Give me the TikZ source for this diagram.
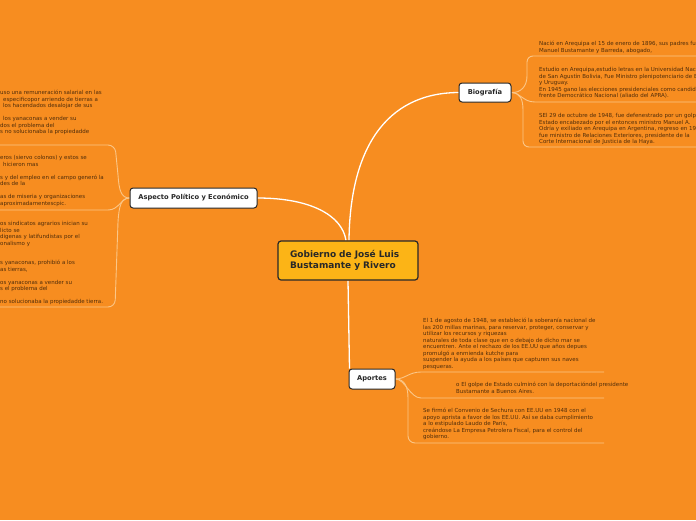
\documentclass[tikz,border=0pt]{standalone}
\usepackage{fontspec}
\setmainfont{DejaVu Sans}
\usetikzlibrary{backgrounds}
\definecolor{bg}{RGB}{247,141,32}
\definecolor{centerfill}{RGB}{252,180,22}
\definecolor{subc}{RGB}{251,198,135}
\definecolor{txt}{RGB}{80,45,10}
\definecolor{dark}{RGB}{40,40,40}
\begin{document}
\begin{tikzpicture}[x=1pt,y=-1pt,
 mainbox/.style={draw=dark, line width=1.2pt, rounded corners=3pt, fill=centerfill,
   font=\bfseries\fontsize{9}{11}\selectfont, text=dark, align=left,
   minimum width=140pt, minimum height=39pt, inner sep=0pt, text width=116pt},
 topicbox/.style={draw=dark, line width=1pt, rounded corners=3pt, fill=white,
   font=\bfseries\fontsize{6.7}{8}\selectfont, text=dark, inner sep=0pt},
 item/.style={anchor=north west, inner sep=0pt, font=\fontsize{5.5}{6.5}\selectfont,
   text=txt, align=left},
 mainlink/.style={draw=white, line width=1.3pt},
 sublink/.style={draw=subc, line width=0.9pt}]
\begin{pgfonlayer}{background}
\fill[bg] (0,0) rectangle (696,520);
\end{pgfonlayer}
\useasboundingbox (0,0) rectangle (696,520);

% nodes
\node[mainbox] (c) at (348,260.5) {Gobierno de José Luis\\Bustamante y Rivero};
\node[topicbox, minimum width=52pt, minimum height=19pt] (bio) at (485,92.5) {Biografía};
\node[topicbox, minimum width=127pt, minimum height=20pt] (asp) at (193.5,198) {Aspecto Político y Económico};
\node[topicbox, minimum width=46pt, minimum height=20pt] (apo) at (372,379) {Aportes};

% free ends of the sub-branches
\coordinate (b1) at (700,56);
\coordinate (b2) at (700,102);
\coordinate (b3) at (700,147);
\coordinate (a1) at (-5,145);
\coordinate (a2) at (-5,210);
\coordinate (a3) at (-5,307);
\coordinate (p1) at (604,372);
\coordinate (p2) at (604,398);
\coordinate (p3) at (604,443);

\begin{pgfonlayer}{background}
\draw[mainlink] ([xshift=1pt]c.north) .. controls (350,150) and (385,93) .. (bio.west);
\draw[mainlink] ([xshift=-2pt]c.north) .. controls (342,215) and (310,198) .. (asp.east);
\draw[mainlink] (c.south) -- ([xshift=1pt]apo.north west);

\draw[sublink] (bio.east) .. controls (521,93) and (527,86) .. (527,76) [rounded corners=6pt] -- (527,56) -- (b1);
\draw[sublink] (bio.east) .. controls (521,93) and (523,102) .. (535,102) -- (b2);
\draw[sublink] (bio.east) .. controls (520,93) and (523,99) .. (523,110) [rounded corners=6pt] -- (523,147) -- (b3);

\draw[sublink] (asp.west) .. controls (121,198) and (119,190) .. (118,175) [rounded corners=7pt] -- (115,145) -- (a1);
\draw[sublink] (asp.west) .. controls (121,198) and (119,210) .. (108,210) -- (a2);
\draw[sublink] (asp.west) .. controls (121,198) and (119,206) .. (118,222) [rounded corners=7pt] -- (115,307) -- (a3);

\draw[sublink] (apo.east) .. controls (405,379) and (409,372) .. (421,372) -- (p1);
\draw[sublink] (apo.east) .. controls (405,379) and (410,398) .. (421,398) -- (p2);
\draw[sublink] (apo.east) .. controls (404,379) and (408,386) .. (408,398) [rounded corners=7pt] -- (408,443) -- (p3);
\end{pgfonlayer}

% texts of Biografía
\node[item] (t1) at (539,41.3) {Nació en Arequipa el 15 de enero de 1896, sus padres fu\\Manuel Bustamante y Barreda, abogado,};
\node[item] (t2) at (539,67.3) {Estudio en Arequipa,estudio letras en la Universidad Nac\\de San Agustín Bolivia, Fue Ministro plenipotenciario de B\\y Uruguay.\\En 1945 gano las elecciones presidenciales como candida\\frente Democrático Nacional (aliado del APRA).};
\node[item] (t3) at (539,113.3) {SEl 29 de octubre de 1948, fue defenestrado por un golp\\Estado encabezado por el entonces ministro Manuel A.\\Odría y exiliado en Arequipa en Argentina, regreso en 19\\fue ministro de Relaciones Exteriores, presidente de la\\Corte Internacional de Justicia de la Haya.};

% texts of Aspecto Político y Económico
\node[item] (t4) at (0,90.3) {uso una remuneración salarial en las\\\hspace*{3pt}especificopor arriendo de tierras a\\\hspace*{3pt}los hacendados desalojar de sus\\\mbox{}\\\hspace*{3pt}los yanaconas a vender su\\dos el problema del\\s no solucionaba la propiedadde};
\node[item] (t5) at (0,155.3) {eros (siervo colonos) y estos se\\\hspace*{3pt}hicieron mas\\\mbox{}\\s y del empleo en el campo generó la\\des de la\\\mbox{}\\as de miseria y organizaciones\\aproximadamentescpic.};
\node[item] (t6) at (0,221.3) {os sindicatos agrarios inician su\\licto se\\digenas y latifundistas por el\\onalismo y\\\mbox{}\\\mbox{}\\s yanaconas, prohibió a los\\as tierras,\\\mbox{}\\os yanaconas a vender su\\s el problema del\\\mbox{}\\no solucionaba la propiedadde tierra.};

% texts of Aportes
\node[item] (t7) at (423,318.3) {El 1 de agosto de 1948, se estableció la soberanía nacional de\\las 200 millas marinas, para reservar, proteger, conservar y\\utilizar los recursos y riquezas\\naturales de toda clase que en o debajo de dicho mar se\\encuentren. Ante el rechazo de los EE.UU que años depues\\promulgó a enmienda kutche para\\suspender la ayuda a los países que capturen sus naves\\pesqueras.};
\node[item] (t8) at (456,382.3) {o El golpe de Estado culminó con la deportacióndel presidente\\Bustamante a Buenos Aires.};
\node[item] (t9) at (423,408.3) {Se firmó el Convenio de Sechura con EE.UU en 1948 con el\\apoyo aprista a favor de los EE.UU. Así se daba cumplimiento\\a lo estipulado Laudo de París,\\creándose La Empresa Petrolera Fiscal, para el control del\\gobierno.};
\end{tikzpicture}
\end{document}
